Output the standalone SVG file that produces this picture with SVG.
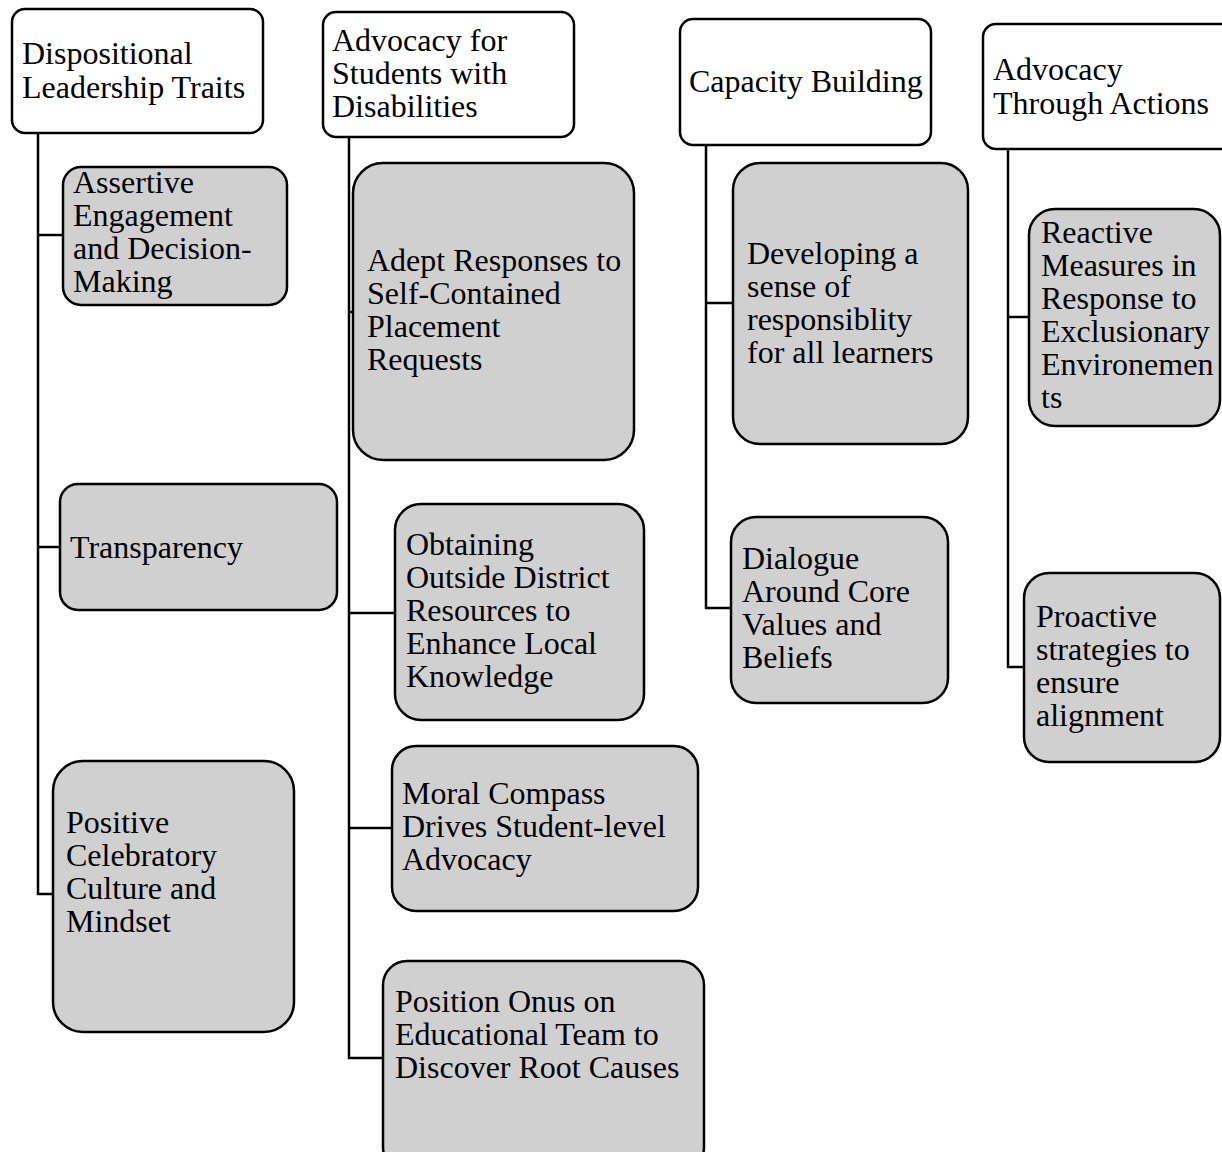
<svg xmlns="http://www.w3.org/2000/svg" width="1222" height="1152" viewBox="0 0 1222 1152">
<style>
.hdr{fill:#ffffff;stroke:#000;stroke-width:2.5}
.sub{fill:#d0d0d0;stroke:#000;stroke-width:2.5}
.conn{fill:none;stroke:#000;stroke-width:2.5}
text{font-family:"Liberation Serif","Times New Roman",serif;font-size:32px;fill:#000}
</style>
<rect width="1222" height="1152" fill="#ffffff"/>
<g id="connectors">
<path class="conn" d="M38 133 V894 H53"/>
<path class="conn" d="M38 235 H63"/>
<path class="conn" d="M38 547 H60"/>
<path class="conn" d="M349 137 V1058 H383"/>
<path class="conn" d="M349 312 H353"/>
<path class="conn" d="M349 613 H395"/>
<path class="conn" d="M349 828 H392"/>
<path class="conn" d="M706 145 V608 H731"/>
<path class="conn" d="M706 303 H733"/>
<path class="conn" d="M1008 149 V667 H1024"/>
<path class="conn" d="M1008 317 H1029"/>
</g>
<g id="h1">
<rect class="hdr" x="12" y="9" width="251" height="124" rx="13"/>
<text x="22" y="64">Dispositional<tspan x="22" y="98">Leadership Traits</tspan></text>
</g>
<g id="h2">
<rect class="hdr" x="323" y="12" width="251" height="125" rx="13"/>
<text x="332" y="51">Advocacy for<tspan x="332" y="84">Students with</tspan><tspan x="332" y="117">Disabilities</tspan></text>
</g>
<g id="h3">
<rect class="hdr" x="680" y="19" width="251" height="126" rx="13"/>
<text x="689" y="92">Capacity Building</text>
</g>
<g id="h4">
<rect class="hdr" x="983" y="24" width="260" height="125" rx="13"/>
<text x="993" y="80">Advocacy<tspan x="993" y="114">Through Actions</tspan></text>
</g>
<g id="n_assertive">
<rect class="sub" x="63" y="167" width="224" height="138" rx="18"/>
<text x="73" y="193">Assertive<tspan x="73" y="226">Engagement</tspan><tspan x="73" y="259">and Decision-</tspan><tspan x="73" y="292">Making</tspan></text>
</g>
<g id="n_transparency">
<rect class="sub" x="60" y="484" width="277" height="126" rx="18"/>
<text x="70" y="558">Transparency</text>
</g>
<g id="n_positive">
<rect class="sub" x="53" y="761" width="241" height="271" rx="30"/>
<text x="66" y="833">Positive<tspan x="66" y="866">Celebratory</tspan><tspan x="66" y="899">Culture and</tspan><tspan x="66" y="932">Mindset</tspan></text>
</g>
<g id="n_adept">
<rect class="sub" x="353" y="163" width="281" height="297" rx="30"/>
<text x="367" y="271">Adept Responses to<tspan x="367" y="304">Self-Contained</tspan><tspan x="367" y="337">Placement</tspan><tspan x="367" y="370">Requests</tspan></text>
</g>
<g id="n_obtaining">
<rect class="sub" x="395" y="504" width="249" height="216" rx="26"/>
<text x="406" y="555">Obtaining<tspan x="406" y="588">Outside District</tspan><tspan x="406" y="621">Resources to</tspan><tspan x="406" y="654">Enhance Local</tspan><tspan x="406" y="687">Knowledge</tspan></text>
</g>
<g id="n_moral">
<rect class="sub" x="392" y="746" width="306" height="165" rx="24"/>
<text x="402" y="804">Moral Compass<tspan x="402" y="837">Drives Student-level</tspan><tspan x="402" y="870">Advocacy</tspan></text>
</g>
<g id="n_position">
<rect class="sub" x="383" y="961" width="321" height="210" rx="24"/>
<text x="395" y="1012">Position Onus on<tspan x="395" y="1045">Educational Team to</tspan><tspan x="395" y="1078">Discover Root Causes</tspan></text>
</g>
<g id="n_developing">
<rect class="sub" x="733" y="163" width="235" height="281" rx="27"/>
<text x="747" y="264">Developing a<tspan x="747" y="297">sense of</tspan><tspan x="747" y="330">responsiblity</tspan><tspan x="747" y="363">for all learners</tspan></text>
</g>
<g id="n_dialogue">
<rect class="sub" x="731" y="517" width="217" height="186" rx="25"/>
<text x="742" y="569">Dialogue<tspan x="742" y="602">Around Core</tspan><tspan x="742" y="635">Values and</tspan><tspan x="742" y="668">Beliefs</tspan></text>
</g>
<g id="n_reactive">
<rect class="sub" x="1029" y="209" width="191" height="217" rx="26"/>
<text x="1041" y="243">Reactive<tspan x="1041" y="276">Measures in</tspan><tspan x="1041" y="309">Response to</tspan><tspan x="1041" y="342">Exclusionary</tspan><tspan x="1041" y="375">Environemen</tspan><tspan x="1041" y="408">ts</tspan></text>
</g>
<g id="n_proactive">
<rect class="sub" x="1024" y="573" width="196" height="189" rx="25"/>
<text x="1036" y="627">Proactive<tspan x="1036" y="660">strategies to</tspan><tspan x="1036" y="693">ensure</tspan><tspan x="1036" y="726">alignment</tspan></text>
</g>
</svg>
